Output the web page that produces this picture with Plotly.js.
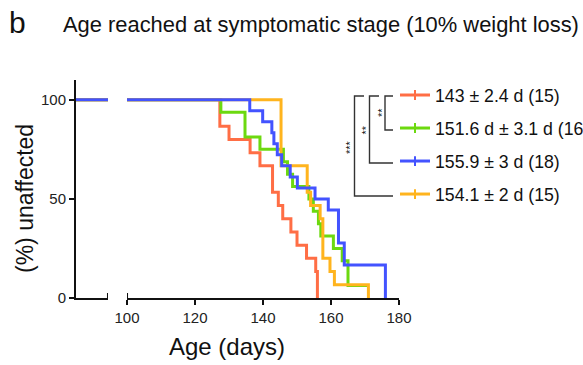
<!DOCTYPE html>
<html>
<head>
<meta charset="utf-8">
<script src="https://cdn.plot.ly/plotly-3.0.1.min.js"></script>
<style>html,body{margin:0;padding:0;background:#fff;overflow:hidden;}#chart{width:610px;height:365px;}</style>
</head>
<body>
<div id="chart"></div>
<script>
// Kaplan-Meier step data (age in days, % unaffected)
const groupNames = ["143 ± 2.4 d (15)", "151.6 d ± 3.1 d (16)", "155.9 ± 3 d (18)", "154.1 ± 2 d (15)"];
const groupColors = ["#FF6E45", "#6CD90F", "#4353FF", "#FFB41E"];

const orangeDays = [0, 127.3, 130, 136.2, 139.1, 142.8, 144.5, 145.8, 148.2, 150, 152.8, 155.5, 156];
const orangePct  = [100, 86.67, 80, 73.33, 66.67, 53.33, 46.67, 40, 33.33, 26.67, 20, 13.33, 0];

const greenDays = [0, 127.6, 134.7, 139.1, 146, 147.2, 148.7, 153.5, 154.8, 156.3, 157, 160.7, 163.3, 165, 171];
const greenPct  = [100, 93.75, 81.25, 75, 68.75, 62.5, 56.25, 50, 43.75, 37.5, 31.25, 25, 18.75, 6.25, 6.25];

const blueDays = [0, 136.1, 139.9, 142.6, 143.2, 144.2, 145.5, 148, 150.1, 155.3, 159.2, 162.2, 163.9, 176];
const bluePct  = [100, 94.44, 88.89, 83.33, 77.78, 72.22, 66.67, 61.11, 55.56, 50, 44.44, 27.78, 16.67, 0];

const yellowDays = [0, 145.3, 153, 154, 156.8, 157.6, 159.7, 161, 171];
const yellowPct  = [100, 66.67, 53.33, 46.67, 40, 20, 13.33, 6.67, 0];

const xTicks = [100, 120, 140, 160, 180];
const yTicks = [0, 50, 100];

const series = [
  {x: orangeDays, y: orangePct},
  {x: greenDays, y: greenPct},
  {x: blueDays, y: bluePct},
  {x: yellowDays, y: yellowPct}
];
// drawing order: blue on top
const drawOrder = [0, 1, 3, 2];

const FONT = "Liberation Sans, Arial, Helvetica, sans-serif";
const traces = [];
// left (broken) segment of the x axis
drawOrder.forEach(i => {
  const s = series[i];
  traces.push({
    type: "scatter", mode: "lines", x: s.x, y: s.y, xaxis: "x", yaxis: "y",
    line: {color: groupColors[i], width: 3, shape: "hv"},
    showlegend: false, hoverinfo: "skip"
  });
});
// main segment
drawOrder.forEach(i => {
  const s = series[i];
  traces.push({
    type: "scatter", mode: "lines+markers", x: s.x, y: s.y, xaxis: "x2", yaxis: "y",
    name: groupNames[i], legendgroup: "g" + i, legendrank: i + 1,
    line: {color: groupColors[i], width: 3, shape: "hv"},
    marker: {symbol: "line-ns", size: 7, color: groupColors[i], line: {color: groupColors[i], width: 2}},
    selectedpoints: [], unselected: {marker: {opacity: 0}}
  });
});

// paper-coordinate helpers (plot area: x 76..399 px, y 80..298 px)
const PX = p => (p - 76) / 323;
const PY = p => (298 - p) / 218;
const bk = {color: "#333", width: 1.4};
const shapes = [
  // axis break caps
  {type: "line", xref: "x", yref: "y", x0: 10, x1: 10, ysizemode: "pixel", yanchor: 0, y0: -5, y1: 5, line: {color: "#111", width: 2}},
  {type: "line", xref: "x2", yref: "y", x0: 100, x1: 100, ysizemode: "pixel", yanchor: 0, y0: -5, y1: 5, line: {color: "#111", width: 2}},
  // significance brackets
  {type: "path", xref: "paper", yref: "paper", path: `M${PX(393)},${PY(96)} L${PX(385)},${PY(96)} L${PX(385)},${PY(130)} L${PX(393)},${PY(130)}`, line: bk},
  {type: "path", xref: "paper", yref: "paper", path: `M${PX(379)},${PY(96)} L${PX(369.5)},${PY(96)} L${PX(369.5)},${PY(163)} L${PX(393)},${PY(163)}`, line: bk},
  {type: "path", xref: "paper", yref: "paper", path: `M${PX(364)},${PY(96)} L${PX(354.5)},${PY(96)} L${PX(354.5)},${PY(196)} L${PX(393)},${PY(196)}`, line: bk}
];

const ann = (text, px, py, size, extra) => Object.assign({
  text, xref: "paper", yref: "paper", x: PX(px), y: PY(py), showarrow: false,
  xanchor: "center", yanchor: "middle", font: {family: FONT, size, color: "#111"}
}, extra || {});

const annotations = [
  ann("b", 17, 23, 30),
  ann("Age (days)", 227, 346, 24),
  ann("(%) unaffected", 25, 199, 23, {textangle: -90}),
  ann("**", 382, 113, 11, {textangle: -90}),
  ann("**", 365.5, 130, 11, {textangle: -90}),
  ann("***", 350, 147, 11, {textangle: -90})
];

const axisCommon = {showgrid: false, zeroline: false, showline: true, linewidth: 2, linecolor: "#111",
  tickcolor: "#111", tickwidth: 2, ticklen: 5, tickfont: {family: FONT, size: 15, color: "#222"}, fixedrange: true};

const W = 610;
const layout = {
  width: W, height: 365,
  margin: {l: 76, r: W - 399, t: 80, b: 67, pad: 0},
  paper_bgcolor: "#fff", plot_bgcolor: "#fff",
  font: {family: FONT, color: "#111"},
  title: {text: "Age reached at symptomatic stage (10% weight loss)", font: {family: FONT, size: 21.9, color: "#111"},
    xref: "container", yref: "container", x: 63 / W, xanchor: "left", y: 1 - 24 / 365, yanchor: "middle"},
  xaxis: Object.assign({}, axisCommon, {domain: [0, 0.099], range: [0, 10], ticks: "", showticklabels: false, anchor: "y"}),
  xaxis2: Object.assign({}, axisCommon, {domain: [0.158, 1], range: [100, 180], tickvals: xTicks, ticks: "outside", anchor: "y"}),
  yaxis: Object.assign({}, axisCommon, {domain: [0, 1], range: [0, 110], tickvals: yTicks, ticks: "outside", anchor: "x"}),
  showlegend: true,
  legend: {x: PX(395), xanchor: "left", y: PY(77), yanchor: "top", font: {family: FONT, size: 17.7, color: "#111"},
    bgcolor: "rgba(0,0,0,0)", traceorder: "grouped", tracegroupgap: 7, itemwidth: 30},
  shapes, annotations
};

Plotly.newPlot("chart", traces, layout, {displayModeBar: false, staticPlot: true});
</script>
</body>
</html>
